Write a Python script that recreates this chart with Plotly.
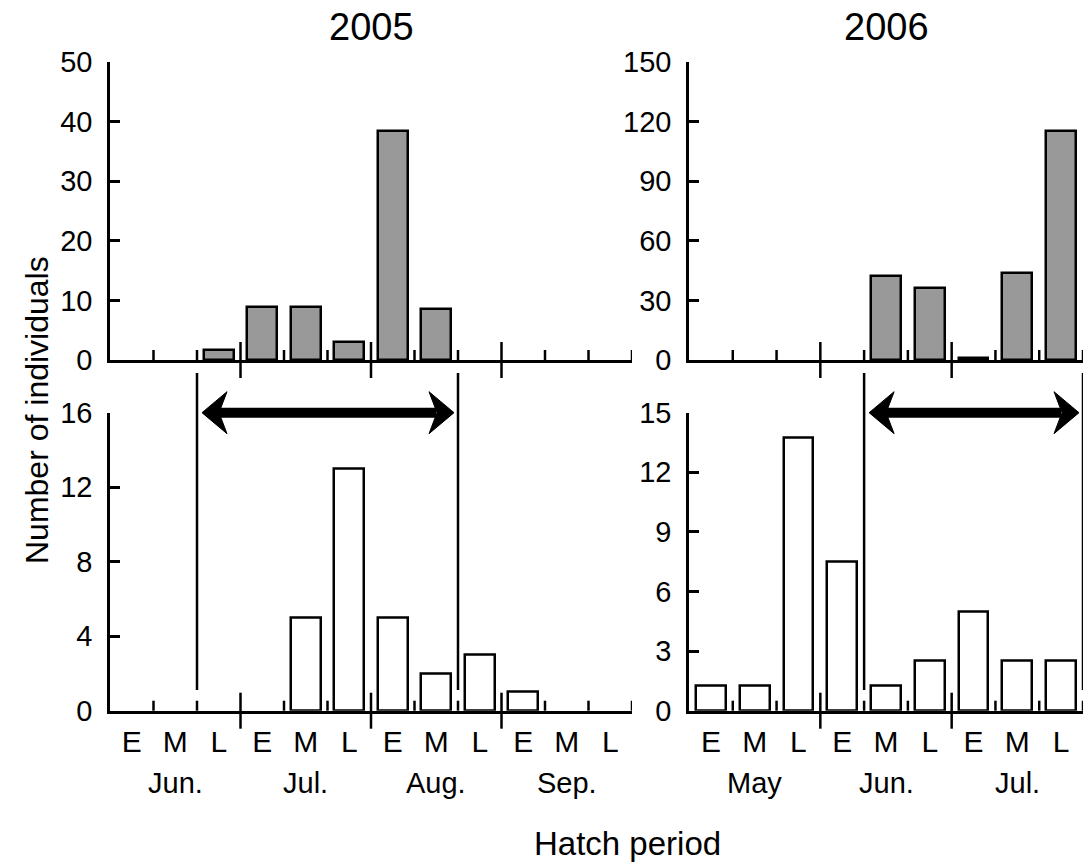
import plotly.graph_objects as go

# ---------------- data ----------------
periods = ["E", "M", "L"]
months_2005 = ["Jun.", "Jul.", "Aug.", "Sep."]
months_2006 = ["May", "Jun.", "Jul."]

counts_2005_top = [0, 0, 1.7, 8.9, 8.9, 3.1, 38.5, 8.6, 0, 0, 0, 0]
counts_2005_bottom = [0, 0, 0, 0, 5, 13, 5, 2, 3, 1, 0, 0]
counts_2006_top = [0, 0, 0, 0, 42.4, 36, 1, 44, 115.4]
counts_2006_bottom = [1.25, 1.25, 13.75, 7.5, 1.25, 2.5, 5, 2.5, 2.5]

yticks_2005_top = [0, 10, 20, 30, 40, 50]
yticks_2005_bottom = [0, 4, 8, 12, 16]
yticks_2006_top = [0, 30, 60, 90, 120, 150]
yticks_2006_bottom = [0, 3, 6, 9, 12, 15]

# arrow spans (category-boundary positions)
span_2005 = (1.5, 7.5)
span_2006 = (3.5, 8.5)

cats_2005 = [f"{m} {p}" for m in months_2005 for p in periods]
cats_2006 = [f"{m} {p}" for m in months_2006 for p in periods]
labels_2005 = [p for m in months_2005 for p in periods]
labels_2006 = [p for m in months_2006 for p in periods]

# ---------------- layout geometry ----------------
W, H = 1087, 866
FONT = "Liberation Sans, Arial, sans-serif"
LW = 2.5


def px_x(p):
    return p / W


def px_y(p):
    return 1 - p / H


dom_x_left = [px_x(110), px_x(632)]
dom_x_right = [px_x(689), px_x(1083)]
dom_y_top = [px_y(360), px_y(62)]
dom_y_bot = [px_y(710.7), px_y(412.7)]
panel_h = 298.0

fig = go.Figure()

panels = [
    ("x", "y", cats_2005, labels_2005, counts_2005_top, "#999999", yticks_2005_top, False, dom_x_left, dom_y_top),
    ("x2", "y2", cats_2005, labels_2005, counts_2005_bottom, "white", yticks_2005_bottom, True, dom_x_left, dom_y_bot),
    ("x3", "y3", cats_2006, labels_2006, counts_2006_top, "#999999", yticks_2006_top, False, dom_x_right, dom_y_top),
    ("x4", "y4", cats_2006, labels_2006, counts_2006_bottom, "white", yticks_2006_bottom, True, dom_x_right, dom_y_bot),
]

shapes = []
annotations = []

for xa, ya, cats, labs, vals, fill, yt, showlab, xd, yd in panels:
    fig.add_trace(go.Bar(
        x=cats, y=vals, xaxis=xa, yaxis=ya, width=0.68,
        marker=dict(color=fill, line=dict(color="black",
                                          width=[LW if v > 0 else 0 for v in vals])),
        showlegend=False, hoverinfo="skip",
    ))
    xkey = "xaxis" + xa[1:]
    ykey = "yaxis" + ya[1:]
    fig.layout[xkey] = dict(
        domain=xd, anchor=ya, type="category", range=[-0.5, len(cats) - 0.5],
        showline=True, linecolor="black", linewidth=LW, mirror=False,
        showgrid=False, zeroline=False, ticks="", automargin=False,
        tickmode="array", tickvals=cats, ticktext=labs,
        showticklabels=showlab, ticklabelstandoff=3,
        tickfont=dict(family=FONT, size=30, color="black"),
        fixedrange=True,
    )
    fig.layout[ykey] = dict(
        domain=yd, anchor=xa, range=[0, yt[-1]],
        showline=True, linecolor="black", linewidth=LW, automargin=False,
        showgrid=False, zeroline=False, ticks="inside", ticklen=10,
        tickwidth=LW, tickcolor="black", ticklabelstandoff=9,
        tickmode="array", tickvals=yt,
        tickfont=dict(family=FONT, size=29, color="black"),
        fixedrange=True,
    )
    # period / month tick marks along the x axis
    n = len(cats)
    for k in range(1, n + 1):
        pos = k - 0.5
        if k % 3 == 0 and k < n:
            y0, y1 = -18 / panel_h, 18 / panel_h
        else:
            y0, y1 = 0, 10 / panel_h
        shapes.append(dict(type="line", xref=xa, yref=ya + " domain",
                           x0=pos, x1=pos, y0=y0, y1=y1,
                           line=dict(color="black", width=LW)))

# month labels
for xa, months in (("x2", months_2005), ("x4", months_2006)):
    for m in months:
        annotations.append(dict(text=m, x=f"{m} M", xref=xa, y=px_y(783), yref="paper",
                                showarrow=False, xanchor="center", yanchor="middle",
                                font=dict(family=FONT, size=29, color="black")))

# period-of-interest lines and arrows
for xa, yd, yt, (a, b) in (("x2", dom_y_bot, yticks_2005_bottom, span_2005),
                           ("x4", dom_y_bot, yticks_2006_bottom, span_2006)):
    ylev = yt[-1]
    # paper position of the arrow level computed from the axis scale
    yp = yd[0] + (ylev / yt[-1]) * (yd[1] - yd[0])
    for pos in (a, b):
        shapes.append(dict(type="line", xref=xa, yref="paper", x0=pos, x1=pos,
                           y0=px_y(690), y1=px_y(373),
                           line=dict(color="black", width=LW)))
    shapes.append(dict(type="line", xref=xa, yref="paper", x0=a + 0.5, x1=b - 0.5,
                       y0=yp, y1=yp, line=dict(color="black", width=10)))
    shapes.append(dict(type="path", xref=xa, yref="paper", xsizemode="pixel", ysizemode="pixel",
                       xanchor=a, yanchor=yp,
                       path="M 5,0 L 30,21 L 22,0 L 30,-21 Z",
                       fillcolor="black", line=dict(color="black", width=1)))
    shapes.append(dict(type="path", xref=xa, yref="paper", xsizemode="pixel", ysizemode="pixel",
                       xanchor=b, yanchor=yp,
                       path="M -4,0 L -29,21 L -21,0 L -29,-21 Z",
                       fillcolor="black", line=dict(color="black", width=1)))

# panel titles
for txt, xd in (("2005", dom_x_left), ("2006", dom_x_right)):
    annotations.append(dict(text=txt, x=(xd[0] + xd[1]) / 2, y=px_y(27), xref="paper", yref="paper",
                            showarrow=False, xanchor="center", yanchor="middle",
                            font=dict(family=FONT, size=38, color="black")))

annotations.append(dict(text="Number of individuals", x=px_x(37), y=px_y(410), xref="paper", yref="paper",
                        textangle=-90, showarrow=False, xanchor="center", yanchor="middle",
                        font=dict(family=FONT, size=32, color="black")))
annotations.append(dict(text="Hatch period", x=px_x(627), y=px_y(843), xref="paper", yref="paper",
                        showarrow=False, xanchor="center", yanchor="middle",
                        font=dict(family=FONT, size=33, color="black")))

fig.update_layout(
    width=W, height=H, margin=dict(l=0, r=0, t=0, b=0, pad=0, autoexpand=False),
    paper_bgcolor="white", plot_bgcolor="rgba(0,0,0,0)",
    shapes=shapes, annotations=annotations, bargap=0,
    font=dict(family=FONT, color="black"),
)

fig.write_html("out.html")
